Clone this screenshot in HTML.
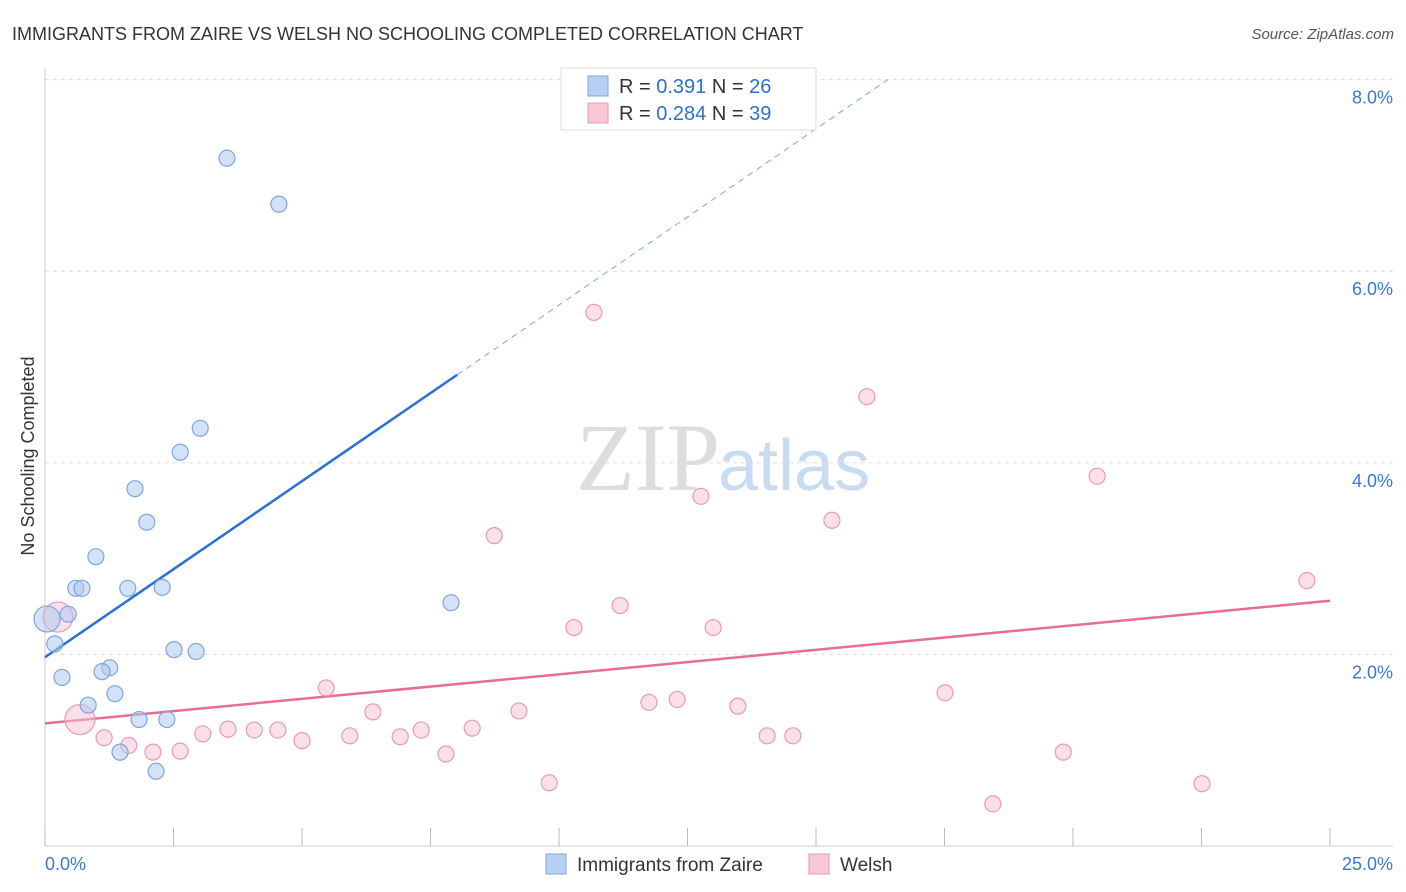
<!DOCTYPE html>
<html><head><meta charset="utf-8"><style>
body{margin:0;background:#fff;font-family:"Liberation Sans",sans-serif;}
svg{display:block}
</style></head><body>
<svg id="chart" width="1406" height="892">
<text x="12" y="40" font-size="18" fill="#333">IMMIGRANTS FROM ZAIRE VS WELSH NO SCHOOLING COMPLETED CORRELATION CHART</text>
<text x="1394" y="39" font-size="15" fill="#555" font-style="italic" text-anchor="end">Source: ZipAtlas.com</text>
<text x="34" y="456" font-size="18" fill="#333" text-anchor="middle" transform="rotate(-90 34 456)">No Schooling Completed</text>
<text x="720" y="490" font-size="96" fill="#ddd" text-anchor="end" font-family="Liberation Serif,serif">ZIP</text>
<text x="718" y="490" font-size="72" fill="#c9dbf0">atlas</text>
<g id="grid"></g><g id="axes"></g><g id="lines"></g><g id="pts"></g>
<g>
<rect x="561" y="68" width="255" height="62" fill="#fff" stroke="#ddd"/>
<rect x="588" y="76" width="20" height="20" fill="#b8d0f4" stroke="#7fa6dd"/>
<text x="619" y="93" font-size="20" fill="#333">R = <tspan fill="#2f6fd0">0.391</tspan>   N = <tspan fill="#2f6fd0">26</tspan></text>
<rect x="588" y="103" width="20" height="20" fill="#f9c8d8" stroke="#e79ab4"/>
<text x="619" y="120" font-size="20" fill="#333">R = <tspan fill="#2f6fd0">0.284</tspan>   N = <tspan fill="#2f6fd0">39</tspan></text>
</g>
<g>
<rect x="546" y="854" width="20" height="20" fill="#b8d0f4" stroke="#7fa6dd"/>
<text x="577" y="871" font-size="19" fill="#333">Immigrants from Zaire</text>
<rect x="809" y="854" width="20" height="20" fill="#f9c8d8" stroke="#e79ab4"/>
<text x="840" y="871" font-size="19" fill="#333">Welsh</text>
</g>
</svg>
<script>
const yTicks=[2,4,6,8];
const yTickLabels=["2.0%","4.0%","6.0%","8.0%"];
const xTicks=[0,2.5,5,7.5,10,12.5,15,17.5,20,22.5,25];
const zaireX=[3.54,4.55,3.02,2.63,1.75,1.98,0.99,0.60,0.72,1.61,2.28,0.45,0.04,0.19,2.51,2.94,7.90,1.26,1.11,0.33,1.36,0.84,1.83,2.37,1.46,2.16];
const zaireY=[7.18,6.70,4.36,4.11,3.73,3.38,3.02,2.69,2.69,2.69,2.70,2.42,2.37,2.11,2.05,2.03,2.54,1.86,1.82,1.76,1.59,1.47,1.32,1.32,0.98,0.78];
const welshX=[10.68,15.99,20.47,12.76,15.31,8.74,24.55,11.19,10.29,13.00,0.25,5.47,17.51,6.38,9.22,11.75,12.30,13.48,0.68,1.15,1.63,2.10,2.63,3.07,3.56,4.07,4.53,5.00,5.93,6.91,7.32,7.80,8.31,14.05,14.55,19.81,9.81,18.44,22.51];
const welshY=[5.57,4.69,3.86,3.65,3.40,3.24,2.77,2.51,2.28,2.28,2.39,1.65,1.60,1.40,1.41,1.50,1.53,1.46,1.32,1.13,1.05,0.98,0.99,1.17,1.22,1.21,1.21,1.10,1.15,1.14,1.21,0.96,1.23,1.15,1.15,0.98,0.66,0.44,0.65];
const zaireBig=[12];
const welshBig=[10,18];
const zaireTrend=[1.97,0.3677]; // intercept, slope
const welshTrend=[1.28,0.0512];
const X=v=>45+v*51.4, Y=v=>846-v*95.8;
const NS="http://www.w3.org/2000/svg";
function mk(t,a,p){const e=document.createElementNS(NS,t);for(const k in a)e.setAttribute(k,a[k]);p.appendChild(e);return e;}
const grid=document.getElementById('grid'),axes=document.getElementById('axes'),lines=document.getElementById('lines'),pts=document.getElementById('pts');
yTicks.forEach((t,i)=>{
 const l=mk('line',{x1:45,x2:1393,y1:Y(t),y2:Y(t),stroke:'#ddd','stroke-dasharray':'4 4'},grid);
 
 
 const tx=mk('text',{x:1393,y:Y(t)+24,'font-size':18,fill:'#3a78d4','text-anchor':'end'},axes);
 tx.textContent=yTickLabels[i];
 
 
});
mk('line',{x1:45,x2:45,y1:68,y2:846,stroke:'#ccc'},axes);
mk('line',{x1:45,x2:1393,y1:846,y2:846,stroke:'#ccc'},axes);
xTicks.forEach(t=>{const l=mk('line',{x1:X(t),x2:X(t),y1:828,y2:846,stroke:'#bbb'},axes);
 
 });
let a=mk('text',{x:45,y:870,'font-size':18,fill:'#3a78d4'},axes);a.textContent='0.0%';


a=mk('text',{x:1393,y:870,'font-size':18,fill:'#3a78d4','text-anchor':'end'},axes);a.textContent='25.0%';


let tl=mk('line',{x1:X(0),y1:Y(zaireTrend[0]),x2:X(8.02),y2:Y(zaireTrend[0]+zaireTrend[1]*8.02),stroke:'#2a70d6','stroke-width':2.5},lines);


tl=mk('line',{x1:X(8.02),y1:Y(zaireTrend[0]+zaireTrend[1]*8.02),x2:X(16.4),y2:Y(zaireTrend[0]+zaireTrend[1]*16.4),stroke:'#7aa6e0','stroke-width':1,'stroke-dasharray':'6 5'},lines);


tl=mk('line',{x1:X(0),y1:Y(welshTrend[0]),x2:X(25),y2:Y(welshTrend[0]+welshTrend[1]*25),stroke:'#e86c98','stroke-width':2.5},lines);


welshX.forEach((x,i)=>{const c=mk('circle',{cx:X(x),cy:Y(welshY[i]),r:welshBig.includes(i)?15:8,fill:'rgba(248,192,212,0.5)',stroke:'#e89ab5','stroke-width':1.2},pts);
 
 });
zaireX.forEach((x,i)=>{const c=mk('circle',{cx:X(x),cy:Y(zaireY[i]),r:zaireBig.includes(i)?13:8,fill:'rgba(176,202,240,0.55)',stroke:'#7fa6dd','stroke-width':1.2},pts);
 
 });
</script>
</body></html>
